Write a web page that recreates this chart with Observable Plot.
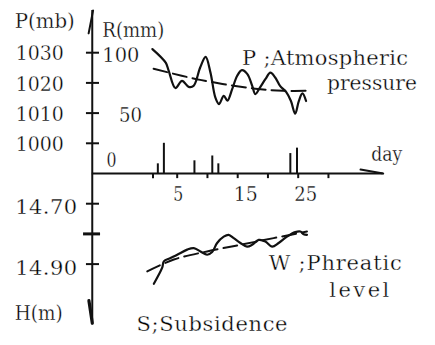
<!DOCTYPE html>
<html><head><meta charset="utf-8">
<script src="https://cdn.jsdelivr.net/npm/d3@7"></script>
<script src="https://cdn.jsdelivr.net/npm/@observablehq/plot@0.6"></script>
<style>html,body{margin:0;padding:0;background:#fff}svg{display:block}svg text{font-family:"DejaVu Serif","Liberation Serif","Times New Roman",serif !important}</style>
</head><body><div id="chart"></div>
<script>
// ---- data ----
const pDays   = [0.9, 3.1, 3.6, 4.7, 5.8, 6.9, 7.7, 8.8, 9.7, 10.5, 11.3, 11.9, 12.7, 13.3, 14.1, 14.9, 15.7, 16.6, 17.4, 17.9, 18.7, 19.6, 20.4, 21.2, 22.0, 23.0, 23.8, 24.5, 25.1, 25.7, 26.3];
const pValues = [1031.2, 1026.7, 1024.0, 1018.3, 1020.7, 1018.7, 1019.0, 1025.1, 1028.6, 1023.4, 1015.2, 1013.0, 1015.7, 1014.1, 1018.0, 1022.3, 1024.2, 1022.9, 1019.0, 1016.3, 1018.5, 1021.3, 1023.4, 1021.8, 1019.0, 1017.0, 1014.0, 1009.8, 1014.0, 1016.5, 1014.0];
const pTrendDays   = [1.1, 8.8, 17.9, 22.5, 27.0];
const pTrendValues = [1024.7, 1021.0, 1018.1, 1017.4, 1017.4];
const rainDays = [1.8, 2.8, 7.85, 10.8, 11.8, 23.7, 24.8];
const rainMM   = [8, 25, 10.5, 14.5, 8, 16.5, 21];
const wDays   = [1.14, 2.52, 2.79, 3.89, 5.0, 6.65, 7.74, 8.84, 9.95, 10.78, 11.6, 12.69, 13.5, 14.34, 15.45, 16.55, 17.38, 18.47, 19.57, 20.68, 21.77, 23.15, 24.52, 25.35, 25.9, 26.45];
const wLevels = [14.965, 14.912, 14.891, 14.880, 14.869, 14.852, 14.847, 14.858, 14.869, 14.860, 14.830, 14.809, 14.803, 14.814, 14.830, 14.842, 14.836, 14.820, 14.825, 14.842, 14.830, 14.809, 14.794, 14.792, 14.801, 14.803];
const wTrendDays   = [0.05, 4.44, 9.95, 15.45, 20.94, 26.45];
const wTrendLevels = [14.924, 14.885, 14.858, 14.836, 14.814, 14.792];

const pTicks = [1000, 1010, 1020, 1030];
const hTicks = [14.70, 14.80, 14.90];
const hTickLabels = ["14.70", "14.90"];
const dayTicks = [1, 5, 10, 15, 20, 25, 30];
const dayTickLabels = [5, 15, 25];

// ---- shared vertical axis: R and H expressed in P units ----
const fromR = r => 990 + r * 0.4;
const fromH = h => 990 - (h - 14.6) * 100;

const pTable = pDays.map((d, i) => ({day: d, v: pValues[i]}));
const pTrend = pTrendDays.map((d, i) => ({day: d, v: pTrendValues[i]}));
const rain = rainDays.map((d, i) => ({day: d, r: rainMM[i]}));
const wTable = wDays.map((d, i) => ({day: d, v: fromH(wLevels[i])}));
const wTrend = wTrendDays.map((d, i) => ({day: d, v: fromH(wTrendLevels[i])}));

const ink = "#111";
const FS = 21;
const FF = "DejaVu Serif, Liberation Serif, serif";
const axisDay = -9.04;

const labels = [
  {text: "P(mb)", day: -21.85, y: 1038.2, w: 60},
  {text: "R(mm)", day: -7.38, y: 1035.2, w: 62},
  {text: "H(m)", day: -21.85, y: 941.5, w: 48},
  {text: "day", day: 37.06, y: 994.3, w: 31},
  {text: "P ;Atmospheric", day: 15.73, y: 1025.8, w: 166},
  {text: "pressure", day: 29.75, y: 1017.6, w: 90},
  {text: "W ;Phreatic", day: 20.12, y: 958.0, w: 133},
  {text: "level", day: 30.13, y: 949.2, w: 60},
  {text: "S;Subsidence", day: -1.72, y: 937.9, w: 151}
];
const widths = Object.fromEntries(labels.map(l => [l.text, l.w]));
Object.assign(widths, {"14.70": 62, "14.90": 62, "1030": 48, "1020": 48, "1010": 48, "1000": 48,
  "100": 37, "50": 23, "0": 10, "5": 10, "15": 24, "25": 23});

// slightly thin the glyphs with a faint white outline painted over the fill
const T = {fontSize: FS, fontFamily: FF, fill: "#000", stroke: "#fff", strokeWidth: 0.35, paintOrder: "normal"};

const svg = Plot.plot({
  width: 435, height: 345,
  margin: 0,
  style: {background: "#fff", color: ink},
  x: {type: "linear", domain: [0, 25], range: [146.45, 297.7], axis: null},
  y: {type: "linear", domain: [990, 1030], range: [173, 52.2], axis: null},
  marks: [
    // vertical axis + arrow barbs
    Plot.ruleX([axisDay], {y1: 940.4, y2: 1044, stroke: ink, strokeWidth: 2}),
    Plot.line([{x: -9.64, y: 1036.4}, {x: -8.9, y: 1044}], {x: "x", y: "y", stroke: ink, strokeWidth: 2}),
    Plot.line([{x: -9.59, y: 947.9}, {x: -9.03, y: 940.4}], {x: "x", y: "y", stroke: ink, strokeWidth: 3.2}),
    // day axis + barb
    Plot.ruleY([990], {x1: axisDay, x2: 39.05, stroke: ink, strokeWidth: 2}),
    Plot.line([{x: 35.3, y: 991.3}, {x: 39.05, y: 990}], {x: "x", y: "y", stroke: ink, strokeWidth: 2}),
    Plot.ruleX(dayTicks, {x: d => d, y1: 990, y2: 988.3, stroke: ink, strokeWidth: 2}),
    Plot.text(dayTickLabels, {x: d => d, y: 990, text: d => String(d), textAnchor: "start", lineAnchor: "bottom", dx: -4, dy: 27, ...T}),
    // P ticks and labels
    Plot.ruleY(pTicks, {y: d => d, x1: -10.0, x2: -7.84, stroke: ink, strokeWidth: 2}),
    Plot.text(pTicks, {x: -13.76, y: d => d, text: d => String(d), textAnchor: "end", lineAnchor: "middle", dy: 1, ...T}),
    // R labels
    Plot.text([100], {x: -7.38, y: fromR, text: d => String(d), textAnchor: "start", lineAnchor: "middle", dy: 3, ...T}),
    Plot.text([50], {x: -4.6, y: fromR, text: d => String(d), textAnchor: "start", lineAnchor: "middle", dy: 2.5, ...T}),
    Plot.text([0], {x: -6.67, y: fromR, text: d => String(d), textAnchor: "start", lineAnchor: "middle", dy: -13, ...T}),
    // H ticks and labels
    Plot.ruleY(hTicks, {y: fromH, x1: d => d === 14.80 ? -10.48 : -10.0, x2: d => d === 14.80 ? -7.67 : -7.84, stroke: ink, strokeWidth: d => d === 14.80 ? 3 : 2}),
    Plot.text(hTickLabels, {x: -11.53, y: d => fromH(+d), text: d => d, textAnchor: "end", lineAnchor: "middle", dy: 4, ...T}),
    // rainfall bars
    Plot.ruleX(rain, {x: "day", y1: 990, y2: d => fromR(d.r), stroke: ink, strokeWidth: 2}),
    // atmospheric pressure
    Plot.line(pTrend, {x: "day", y: "v", stroke: ink, strokeWidth: 2, strokeDasharray: "14,6", curve: "catmull-rom"}),
    Plot.line(pTable, {x: "day", y: "v", stroke: ink, strokeWidth: 2.2, curve: "catmull-rom"}),
    // phreatic level
    Plot.line(wTrend, {x: "day", y: "v", stroke: ink, strokeWidth: 2, strokeDasharray: "14,6", curve: "catmull-rom"}),
    Plot.line(wTable, {x: "day", y: "v", stroke: ink, strokeWidth: 2.2, curve: "catmull-rom"}),
    // annotations
    Plot.text(labels, {x: "day", y: "y", text: "text", textAnchor: "start", lineAnchor: "bottom", ...T})
  ]
});

document.getElementById("chart").appendChild(svg);
// fit each text to the width it has in the figure (monospaced original)
d3.select(svg).selectAll("text").each(function () {
  const t = this.textContent;
  const w = widths[t];
  if (!w) return;
  const natural = this.getComputedTextLength();
  this.setAttribute("textLength", w);
  this.setAttribute("lengthAdjust", natural > w ? "spacingAndGlyphs" : "spacing");
});
</script>
</body></html>
